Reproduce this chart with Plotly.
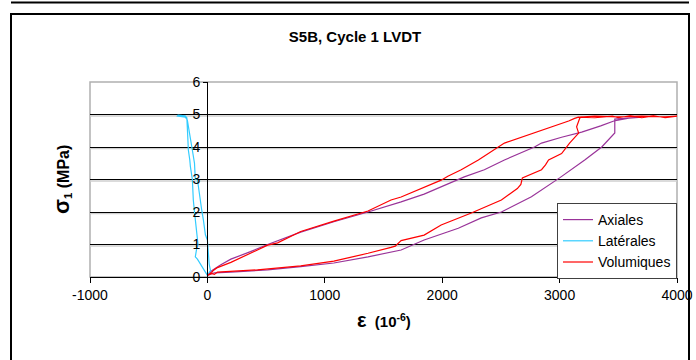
import plotly.graph_objects as go

# Axiales (purple): loading branch, hold at ~4.9 MPa, unloading branch
axial_eps = [0, 40, 111, 200, 367, 513, 795, 1077, 1368, 1650, 1846, 2188, 2359, 2530, 2786, 2846,
             3017, 3188, 3350, 3462, 3590, 3700, 3600, 3470, 3470, 3359, 3214, 3000, 2760, 2504,
             2333, 2137, 1846, 1650, 1368, 1077, 795, 513, 200, 60, 0]
axial_sig = [0.05, 0.2, 0.37, 0.55, 0.78, 1.0, 1.38, 1.7, 2.0, 2.31, 2.55, 3.08, 3.3, 3.6, 4.0, 4.12,
             4.3, 4.46, 4.65, 4.8, 4.89, 4.92, 4.9, 4.86, 4.43, 4.0, 3.6, 3.05, 2.47, 2.0,
             1.82, 1.5, 1.14, 0.83, 0.62, 0.43, 0.32, 0.22, 0.15, 0.13, 0.05]

# Latérales (cyan)
lat_eps = [0, 26, 15, 9, 0, -17, -25, -34, -50, -60, -75, -85, -103, -110, -128, -150, -171, -188,
           -256, -250, -190, -175, -171, -165, -162, -150, -145, -128, -125, -120, -110, -103, -95,
           -85, -80, -90, -103, -85, -60, -43, -20, 0]
lat_sig = [0.05, 0.2, 0.4, 0.62, 1.14, 1.3, 1.55, 1.75, 2.1, 2.37, 2.7, 3.0, 3.0, 3.5, 3.9, 4.4, 4.83,
           4.92, 4.95, 4.98, 4.96, 4.9, 4.52, 4.2, 3.9, 3.6, 3.4, 3.0, 2.7, 2.37, 2.0, 1.75, 1.45,
           1.14, 1.0, 0.9, 0.62, 0.55, 0.4, 0.3, 0.15, 0.05]

# Volumiques (red)
vol_eps = [0, 30, 50, 80, 200, 367, 513, 598, 795, 1077, 1368, 1564, 1650, 1991, 2048, 2162, 2308,
           2530, 2846, 3077, 3128, 3160, 3300, 3450, 3500, 3600, 3700, 3800, 3900, 4000, 3900, 3700,
           3500, 3300, 3180, 3171, 3145, 3162, 3085, 3017, 2906, 2880, 2846, 2683, 2670, 2640, 2504,
           2248, 1991, 1846, 1650, 1600, 1564, 1368, 1077, 795, 427, 85, 60, 26, 0]
vol_sig = [0.05, 0.1, 0.2, 0.28, 0.45, 0.72, 0.98, 1.05, 1.4, 1.72, 2.03, 2.37, 2.46, 2.98, 3.1, 3.3, 3.6,
           4.12, 4.5, 4.8, 4.88, 4.92, 4.9, 4.95, 4.9, 4.96, 4.9, 4.96, 4.9, 4.95, 4.93, 4.95,
           4.93, 4.95, 4.92, 4.88, 4.62, 4.43, 4.12, 3.8, 3.6, 3.45, 3.3, 3.05, 2.85, 2.72, 2.37,
           1.97, 1.6, 1.29, 1.12, 0.95, 0.91, 0.73, 0.49, 0.34, 0.22, 0.15, 0.08, 0.12, 0.05]

x_ticks = [-1000, 0, 1000, 2000, 3000, 4000]
x_labels = ["-1000", "0", "1000", "2000", "3000", "4000"]
y_ticks = [0, 1, 2, 3, 4, 5, 6]

FONT = "Liberation Sans, Arial, sans-serif"

fig = go.Figure()
fig.add_trace(go.Scatter(x=axial_eps, y=axial_sig, mode="lines", name="Axiales",
                         line=dict(color="#993399", width=1.2)))
fig.add_trace(go.Scatter(x=lat_eps, y=lat_sig, mode="lines", name="Latérales",
                         line=dict(color="#33CCFF", width=1.2)))
fig.add_trace(go.Scatter(x=vol_eps, y=vol_sig, mode="lines", name="Volumiques",
                         line=dict(color="#FF0000", width=1.2)))

# plot area: x px 90..677, y px 82..277
def px(x):
    return (x - 90) / 587

def py(y):
    return (277 - y) / 195

shapes = [
    # outer chart frame
    dict(type="rect", xref="paper", yref="paper", x0=px(11), x1=px(689), y0=py(372), y1=py(14),
         line=dict(color="black", width=2), layer="below"),
    # bottom edge of the chart above
    dict(type="line", xref="paper", yref="paper", x0=px(11), x1=px(689), y0=py(2.5), y1=py(2.5),
         line=dict(color="black", width=2)),
    # plot area border
    dict(type="rect", xref="paper", yref="paper", x0=0, x1=1, y0=0, y1=1,
         line=dict(color="#b0b0b0", width=1.5), layer="below"),
]
# light grey shadow under each black gridline
for v in y_ticks[1:-1]:
    shapes.append(dict(type="line", xref="paper", yref="y", x0=0, x1=1, y0=v - 0.045, y1=v - 0.045,
                       line=dict(color="#cfcfcf", width=1.5), layer="below"))

fig.update_layout(
    width=696, height=360,
    margin=dict(l=90, r=19, t=82, b=83),
    paper_bgcolor="white", plot_bgcolor="white",
    font=dict(family=FONT, size=14, color="black"),
    title=dict(text="<b>S5B, Cycle 1 LVDT</b>", x=355 / 696, xref="container", xanchor="center",
               y=1 - 37 / 360, yref="container", yanchor="middle",
               font=dict(family=FONT, size=15, color="black")),
    xaxis=dict(range=[-1000, 4000], tickvals=x_ticks, ticktext=x_labels, showgrid=False,
               zeroline=False, showline=True, linecolor="black", linewidth=1, ticks="outside",
               ticklen=5, tickcolor="black", tickfont=dict(size=14), automargin=False),
    yaxis=dict(range=[0, 6], tickvals=y_ticks, showgrid=True, gridcolor="black", gridwidth=1,
               zeroline=False, showline=True, linecolor="black", linewidth=1,
               anchor="free", position=px(207), ticks="outside", ticklen=4, tickcolor="black",
               tickfont=dict(size=14), automargin=False),
    showlegend=True,
    legend=dict(x=1, y=py(203), xanchor="right", yanchor="top",
                bgcolor="white", bordercolor="#404040", borderwidth=1,
                font=dict(family=FONT, size=14), itemwidth=30, tracegroupgap=0),
    shapes=shapes,
    annotations=[
        dict(text="<b><span style='font-size:22px'>σ</span><sub>1</sub> (MPa)</b>",
             xref="paper", yref="paper", x=px(47), y=0.5, textangle=-90, showarrow=False,
             font=dict(family=FONT, size=16)),
        dict(text="<b><span style='font-size:20px'>ε</span>  (10<sup>-6</sup>)</b>",
             xref="paper", yref="paper", x=0.5, y=py(333), showarrow=False,
             font=dict(family=FONT, size=15)),
    ],
)

# the page is photographed from its top-left corner, so drop the default body margin
fig.write_html("out.html", config={"displayModeBar": False},
               post_script="document.body.style.margin='0px';")
